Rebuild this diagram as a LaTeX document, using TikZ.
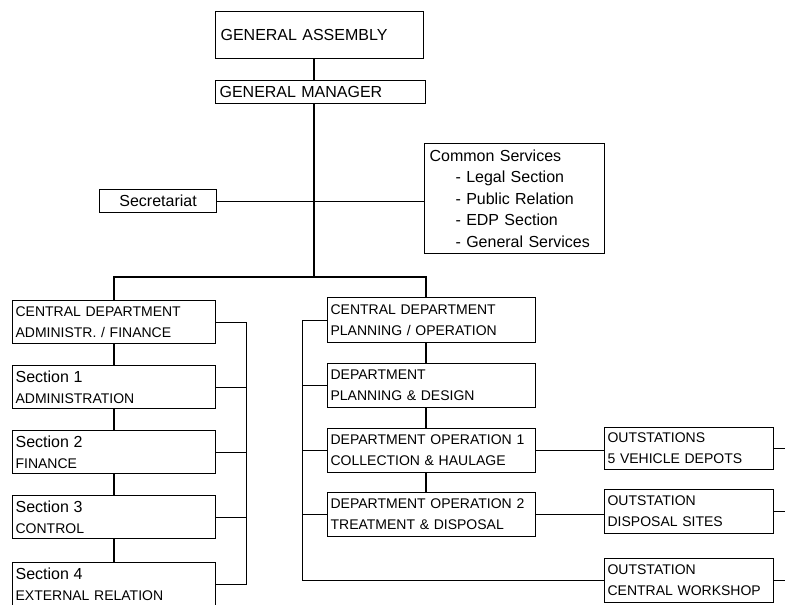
\documentclass[tikz,border=0pt]{standalone}
\usepackage{fontspec}
\setmainfont{Liberation Sans}
\newcommand{\secfont}{\fontsize{16}{21}\selectfont}
\begin{document}
\begin{tikzpicture}[x=1pt,y=-1pt,
    box/.style={draw,line width=1.2pt,anchor=north west,inner xsep=3pt,inner ysep=0pt,align=left,font=\fontsize{14}{21}\selectfont},
    big/.style={font=\fontsize{16}{21.5}\selectfont},
    link/.style={line width=1.8pt},
    thin link/.style={line width=1pt}]
    \useasboundingbox (0,0) rectangle (785,605);

    \node[box,big,inner xsep=5pt,text width=198pt,minimum height=47pt] (ga) at (215,11) {GENERAL ASSEMBLY};
    \node[box,big,inner xsep=4pt,text width=202pt,minimum height=23pt] (gm) at (215,80) {GENERAL MANAGER};
    \node[box,big,align=center,text width=111pt,minimum height=23pt] (sec) at (99,189) {Secretariat};
    \node[box,big,inner xsep=5pt,text width=170pt,minimum height=110pt] (cs) at (424,143) {Common Services\\
        \hspace*{26pt}- Legal Section\\
        \hspace*{26pt}- Public Relation\\
        \hspace*{26pt}- EDP Section\\
        \hspace*{26pt}- General Services};

    \node[box,text width=197pt,minimum height=43pt] (cda) at (12,300) {CENTRAL DEPARTMENT\\ADMINISTR. / FINANCE};
    \node[box,text width=197pt,minimum height=43pt] (s1) at (12,365) {{\secfont Section 1}\\ADMINISTRATION};
    \node[box,text width=197pt,minimum height=43pt] (s2) at (12,430) {{\secfont Section 2}\\FINANCE};
    \node[box,text width=197pt,minimum height=43pt] (s3) at (12,495) {{\secfont Section 3}\\CONTROL};
    \node[box,text width=197pt,minimum height=43pt] (s4) at (12,562) {{\secfont Section 4}\\EXTERNAL RELATION};

    \node[box,text width=202pt,minimum height=45pt] (cdp) at (327,297) {CENTRAL DEPARTMENT\\PLANNING / OPERATION};
    \node[box,text width=202pt,minimum height=44pt] (pd) at (327,363) {DEPARTMENT\\PLANNING \& DESIGN};
    \node[box,text width=202pt,minimum height=44pt] (op1) at (327,428) {DEPARTMENT OPERATION 1\\COLLECTION \& HAULAGE};
    \node[box,text width=202pt,minimum height=44pt] (op2) at (327,492) {DEPARTMENT OPERATION 2\\TREATMENT \& DISPOSAL};

    \node[box,text width=163pt,minimum height=42pt] (os) at (604,427) {OUTSTATIONS\\5 VEHICLE DEPOTS};
    \node[box,text width=163pt,minimum height=44pt] (ds) at (604,489) {OUTSTATION\\DISPOSAL SITES};
    \node[box,text width=163pt,minimum height=44pt] (ws) at (604,558) {OUTSTATION\\CENTRAL WORKSHOP};

    \coordinate (spine) at (314,277);
    \coordinate (rspine) at (426,277);

    \draw[link] (ga.south -| spine) -- (gm.north -| spine);
    \draw[link] (gm.south -| spine) -- (spine);
    \draw[link] (cda.north) |- (rspine) -- (cdp.north -| rspine);
    \draw[thin link] (sec.east) -- (sec.east -| cs.west);

    \path[link]
        (cda) edge (s1)
        (s1) edge (s2)
        (s2) edge (s3)
        (s3) edge (s4)
        ;
    \foreach \a/\b in {cdp/pd,pd/op1,op1/op2}
        \draw[link] (\a.south -| rspine) -- (\b.north -| rspine);

    \draw[thin link] (cda.east) -- ++(30,0) |- (s4.east);
    \foreach \n in {s1,s2,s3}
        \draw[thin link] (\n.east) -- ++(30,0);

    \draw[thin link] (cdp.west) -- ++(-25,0) |- (ws.west);
    \foreach \n in {pd,op1,op2}
        \draw[thin link] (\n.west) -- ++(-25,0);

    \draw[thin link] (op1.east) -- (op1.east -| os.west);
    \draw[thin link] (op2.east) -- (op2.east -| ds.west);
    \foreach \n in {os,ds,ws}
        \draw[thin link] (\n.east) -- ++(15,0);
\end{tikzpicture}
\end{document}
